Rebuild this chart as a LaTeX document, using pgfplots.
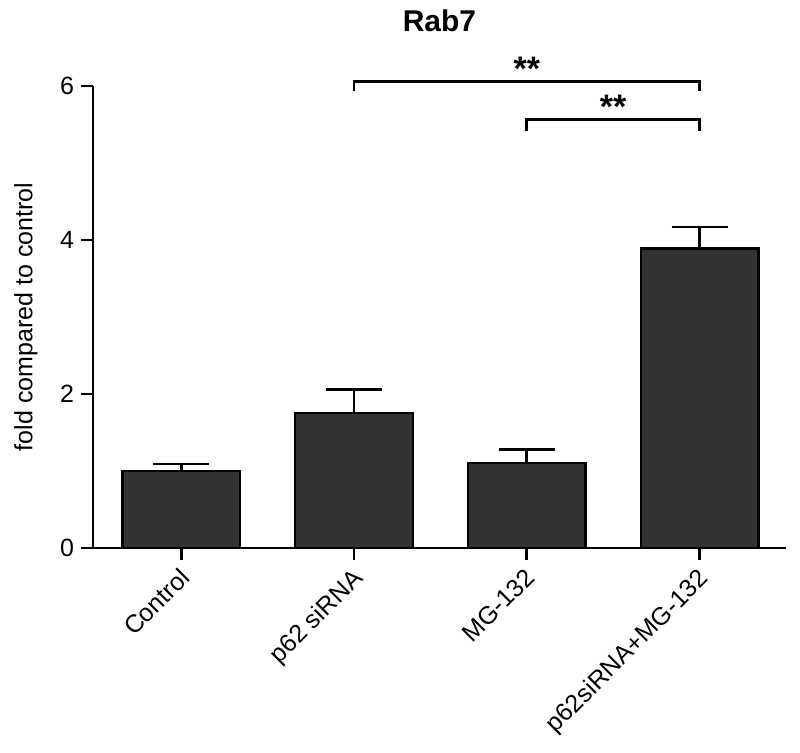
\documentclass[border=0pt]{standalone}
\usepackage{fontspec}
\setmainfont{Liberation Sans}
\usepackage{pgfplots}
\pgfplotsset{compat=1.18}
\definecolor{barfill}{HTML}{333333}

\begin{document}
\begin{tikzpicture}
\begin{axis}[
  width=346.5pt, height=231pt, scale only axis,
  axis lines*=left, axis line style={-, line width=1.4pt},
  ybar, bar width=0.68,
  xmin=-0.51, xmax=3.5, ymin=0, ymax=6,
  xtick={0,1,2,3}, ytick={0,2,4,6},
  xticklabels={Control, p62 siRNA, MG-132, p62siRNA+MG-132},
  tick align=outside, major tick length=6pt,
  tick style={line width=1.4pt, black},
  /pgf/number format/assume math mode=true,
  tick label style={font=\fontsize{12.5}{15}\selectfont},
  x tick label style={rotate=45, anchor=north east, yshift=2pt},
  ylabel={fold compared to control},
  ylabel style={font=\fontsize{12.5}{15}\selectfont, at={(axis description cs:0,0.5)}, anchor=center, yshift=33.5pt},
  title={Rab7},
  title style={font=\fontsize{15}{18}\selectfont\bfseries, at={(0.5,1)}, anchor=base, yshift=21pt},
  clip=false,
]
\addplot[fill=barfill, draw=black, line width=1.2pt,
  error bars/.cd, y dir=plus, y explicit, error mark=|,
  error bar style={line width=1.4pt, black},
  error mark options={line width=1.4pt, mark size=14pt, black}]
  coordinates {(0,1.00) +- (0,0.09) (1,1.75) +- (0,0.31) (2,1.10) +- (0,0.18) (3,3.89) +- (0,0.28)};
% significance brackets
\draw[line width=1.4pt] (axis cs:-0.575,0) -- (axis cs:-0.51,0);
\draw[line width=1.4pt] (axis cs:1,5.93) -- (axis cs:1,6.06) -- (axis cs:3,6.06) -- (axis cs:3,5.93);
\draw[line width=1.4pt] (axis cs:2,5.41) -- (axis cs:2,5.56) -- (axis cs:3,5.56) -- (axis cs:3,5.41);
\node[anchor=base, font=\fontsize{17}{20}\selectfont\bfseries] at (axis cs:2,6.07) {**};
\node[anchor=base, font=\fontsize{17}{20}\selectfont\bfseries] at (axis cs:2.5,5.58) {**};
\end{axis}
\path (-46.5pt,-102.5pt) rectangle (353.5pt,274pt);
\end{tikzpicture}
\end{document}
